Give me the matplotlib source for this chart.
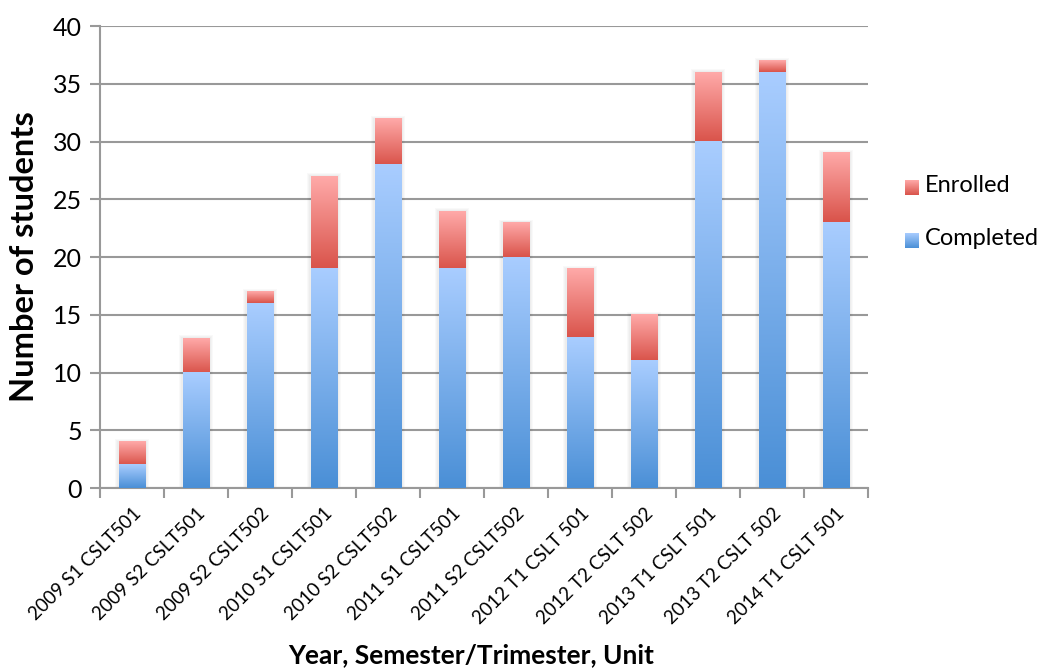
import numpy as np
import matplotlib
matplotlib.use('Agg')
import matplotlib.pyplot as plt
from matplotlib.colors import LinearSegmentedColormap
from matplotlib.patches import Rectangle

plt.rcParams['font.family'] = ['Lato', 'DejaVu Sans']

units = ['2009 S1 CSLT501', '2009 S2 CSLT501', '2009 S2 CSLT502',
         '2010 S1 CSLT501', '2010 S2 CSLT502', '2011 S1 CSLT501',
         '2011 S2 CSLT502', '2012 T1 CSLT 501', '2012 T2 CSLT 502',
         '2013 T1 CSLT 501', '2013 T2 CSLT 502', '2014 T1 CSLT 501']
enrolled = [4, 13, 17, 27, 32, 24, 23, 19, 15, 36, 37, 29]
completed = [2, 10, 16, 19, 28, 19, 20, 13, 11, 30, 36, 23]

red_cmap = LinearSegmentedColormap.from_list('red_grad', ['#d9534a', '#ffaaa9'])
blue_cmap = LinearSegmentedColormap.from_list('blue_grad', ['#4a8fd6', '#a9cdff'])
grad = np.linspace(0, 1, 256).reshape(-1, 1)

fig = plt.figure(figsize=(10.42, 6.71), dpi=100)
ax = fig.add_axes([0.096, 0.2727, 0.737, 0.6885])

width = 0.42
xs = np.arange(len(units))

for x, e, c in zip(xs, enrolled, completed):
    # faint soft shadow around each bar
    for k in [0.06, 0.04, 0.02]:
        ax.add_patch(Rectangle((x - width / 2 - k, 0), width + 2 * k, e + k * 4,
                               color='black', alpha=0.025, lw=0, zorder=2))
    ax.imshow(grad, cmap=red_cmap, origin='lower', aspect='auto',
              extent=[x - width / 2, x + width / 2, c, e], zorder=3)
    ax.imshow(grad, cmap=blue_cmap, origin='lower', aspect='auto',
              extent=[x - width / 2, x + width / 2, 0, c], zorder=4)

ax.set_xlim(-0.5, len(units) - 0.5)
ax.set_ylim(0, 40)
ax.set_yticks(range(0, 41, 5))
ax.tick_params(axis='y', labelsize=18, length=7, width=1.5, color='#999999', pad=6)
ax.set_xticks(xs)
ax.set_xticklabels(units, rotation=45, ha='right', rotation_mode='anchor', fontsize=13.5)
ax.tick_params(axis='x', length=0, pad=12)
ax.set_xticks(np.arange(-0.5, len(units), 1), minor=True)
ax.tick_params(axis='x', which='minor', length=7, width=1.5, color='#999999')
ax.grid(axis='y', color='#999999', lw=1.5, zorder=1)
ax.set_axisbelow(True)
for s in ['top', 'right']:
    ax.spines[s].set_visible(False)
for s in ['left', 'bottom']:
    ax.spines[s].set_color('#999999')
    ax.spines[s].set_linewidth(1.5)

ax.set_ylabel('Number of students', fontsize=23.5, fontweight='bold', labelpad=10)
fig.text(0.452, 0.006, 'Year, Semester/Trimester, Unit', fontsize=19,
         fontweight='bold', ha='center', va='bottom')

# legend with small gradient swatches
for ly, cmap, label in [(0.723, red_cmap, 'Enrolled'), (0.645, blue_cmap, 'Completed')]:
    sw = fig.add_axes([0.8685, ly - 0.014, 0.0125, 0.022])
    sw.imshow(grad, cmap=cmap, origin='lower', aspect='auto')
    sw.axis('off')
    fig.text(0.888, ly, label, fontsize=17, va='center', ha='left')

fig.savefig('out.png', dpi=100)
